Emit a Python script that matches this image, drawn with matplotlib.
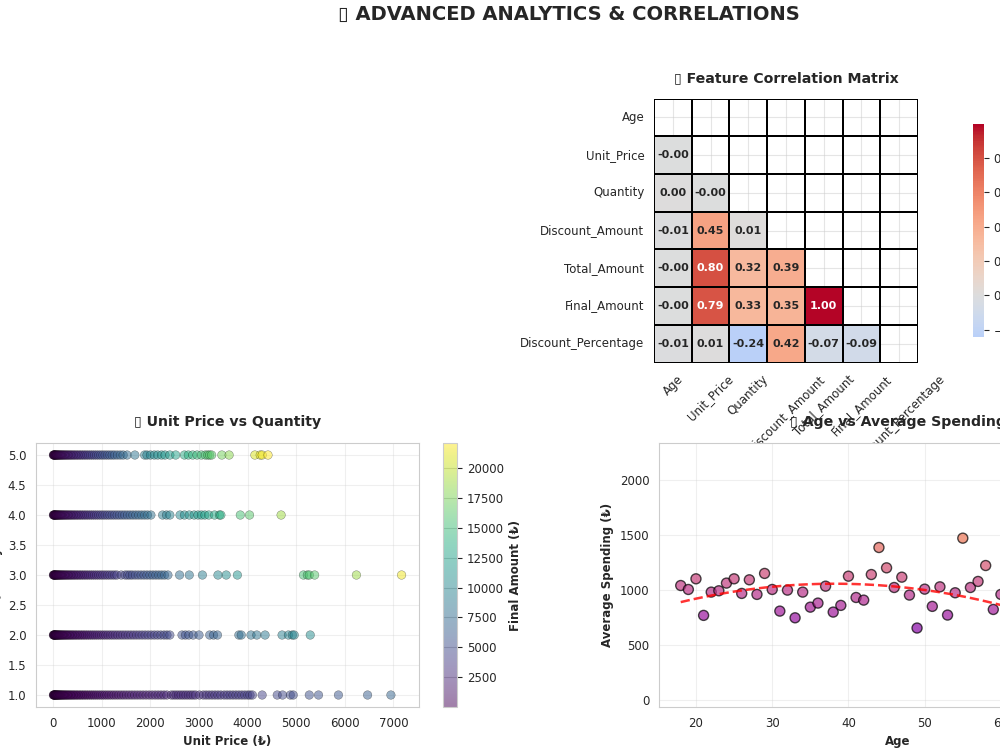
#!/usr/bin/env python3
"""
Advanced analytics panel: correlation heatmap, unit price vs quantity, age vs spending.
"""
from __future__ import annotations

import matplotlib
matplotlib.use("Agg")

import matplotlib.pyplot as plt
import numpy as np
import pandas as pd
import seaborn as sns

# --- correlation matrix (lower triangle, row by row) ---
FEATURES = [
    "Age", "Unit_Price", "Quantity", "Discount_Amount",
    "Total_Amount", "Final_Amount", "Discount_Percentage",
]
CORR_LOWER = [
    [],
    [-0.003],
    [0.002, -0.004],
    [-0.011, 0.452, 0.012],
    [-0.003, 0.801, 0.322, 0.391],
    [-0.002, 0.792, 0.331, 0.352, 0.996],
    [-0.012, 0.009, -0.241, 0.421, -0.071, -0.088],
]

# --- unit price per order, grouped by quantity ---
PRICES_Q1 = [3, 9, 15, 22, 30, 38, 47, 56, 66, 77, 88, 100, 113, 127, 142, 158, 175,
             193, 212, 232, 253, 275, 298, 322, 347, 373, 400, 428, 457, 487, 518, 550,
             583, 617, 652, 688, 725, 763, 802, 842, 883, 925, 968, 1012, 1057, 1103,
             1150, 1198, 1247, 1297, 1348, 1400, 1453, 1507, 1562, 1618, 1675, 1733,
             1792, 1852, 1913, 1975, 2038, 2100, 2160, 2220, 2280, 2340, 2430, 2480,
             2530, 2580, 2630, 2680, 2730, 2780, 2830, 2880, 2930, 3010, 3090, 3150,
             3210, 3270, 3330, 3390, 3450, 3520, 3580, 3640, 3700, 3760, 3820, 3880,
             3940, 4000, 4050, 4100, 4300, 4610, 4720, 4880, 4940, 5270, 5460, 5870,
             6470, 6950]
PRICES_Q2 = [3, 9, 15, 22, 30, 38, 47, 57, 68, 80, 93, 107, 122, 138, 155, 173, 192,
             212, 233, 255, 278, 302, 327, 353, 380, 408, 437, 467, 498, 530, 563, 597,
             632, 668, 705, 743, 782, 822, 863, 905, 948, 992, 1037, 1083, 1130, 1178,
             1227, 1277, 1328, 1380, 1433, 1487, 1542, 1598, 1655, 1713, 1772, 1832,
             1893, 1955, 2018, 2082, 2147, 2213, 2280, 2340, 2400, 2650, 2720, 2790,
             2880, 3000, 3220, 3300, 3380, 3820, 3870, 4070, 4190, 4360, 4710, 4840,
             4920, 4960, 5290]
PRICES_Q3 = [3, 9, 16, 24, 33, 43, 54, 66, 79, 93, 108, 124, 141, 159, 178, 198, 219,
             241, 264, 288, 313, 339, 366, 394, 423, 453, 484, 516, 549, 583, 618, 654,
             691, 729, 768, 808, 849, 891, 934, 978, 1023, 1069, 1116, 1164, 1213, 1263,
             1310, 1400, 1480, 1530, 1580, 1630, 1690, 1750, 1810, 1870, 1930, 1990,
             2050, 2110, 2170, 2230, 2290, 2360, 2600, 2800, 3070, 3390, 3560, 3790,
             5150, 5230, 5270, 5380, 6240, 7170]
PRICES_Q4 = [3, 9, 16, 24, 33, 43, 54, 66, 79, 93, 108, 124, 141, 159, 178, 198, 219,
             241, 264, 288, 313, 339, 366, 394, 423, 453, 484, 516, 549, 583, 618, 654,
             691, 729, 768, 808, 849, 891, 934, 978, 1023, 1069, 1116, 1164, 1213, 1263,
             1314, 1366, 1419, 1473, 1528, 1584, 1641, 1699, 1758, 1818, 1879, 1940,
             2010, 2250, 2330, 2400, 2610, 2700, 2800, 2900, 2980, 3050, 3120, 3200,
             3320, 3420, 3450, 3850, 4040, 4690]
PRICES_Q5 = [3, 9, 16, 24, 33, 43, 54, 66, 79, 93, 108, 124, 141, 159, 178, 198, 219,
             241, 264, 288, 313, 339, 366, 394, 423, 453, 484, 516, 549, 583, 618, 654,
             691, 729, 768, 808, 849, 891, 934, 978, 1023, 1069, 1116, 1164, 1213, 1263,
             1320, 1380, 1440, 1520, 1680, 1880, 1930, 2000, 2080, 2150, 2230, 2300,
             2400, 2520, 2700, 2780, 2870, 2960, 3050, 3130, 3180, 3220, 3260, 3470,
             3620, 4150, 4260, 4300, 4420]

# --- average spending per customer age ---
AGES = list(range(18, 76))
AVG_SPENDING = [1042, 1006, 1103, 770, 982, 994, 1064, 1103, 970, 1094, 961, 1152,
                1006, 809, 1000, 748, 982, 845, 882, 1036, 800, 861, 1127, 933, 909,
                1142, 1388, 1203, 1024, 1118, 955, 655, 1009, 852, 1030, 773, 976,
                1473, 1024, 1079, 1224, 824, 961,
                2230, 1130, 910, 720, 570, 450, 370, 45, 305, 330, 380, 470, 595,
                755, 950]

# emoji in the original titles have no installed glyph; a plain box stands in
BOX = "\u25af"
TITLE_KW = dict(fontsize=10.2, fontweight="bold", pad=12)


def corr_frame() -> pd.DataFrame:
    n = len(FEATURES)
    m = np.eye(n)
    for i, row in enumerate(CORR_LOWER):
        for j, v in enumerate(row):
            m[i, j] = v
            m[j, i] = v
    return pd.DataFrame(m, index=FEATURES, columns=FEATURES)


def draw_heatmap(ax, cax) -> None:
    corr = corr_frame()
    mask = np.triu(np.ones_like(corr, dtype=bool))
    sns.heatmap(
        corr, mask=mask, annot=True, fmt=".2f", cmap="coolwarm", center=0,
        square=True, linewidths=1.4, linecolor="black", ax=ax, cbar_ax=cax,
        annot_kws={"size": 8, "weight": "bold"},
    )
    ax.grid(True, alpha=0.5)
    ax.set_title(f"{BOX} Feature Correlation Matrix", **TITLE_KW)
    plt.setp(ax.get_xticklabels(), rotation=45)
    plt.setp(ax.get_yticklabels(), rotation=0)


def draw_price_quantity(fig, ax, cax) -> None:
    groups = [PRICES_Q1, PRICES_Q2, PRICES_Q3, PRICES_Q4, PRICES_Q5]
    price = np.concatenate([np.asarray(g, dtype=float) for g in groups])
    qty = np.concatenate([np.full(len(g), q + 1.0) for q, g in enumerate(groups)])
    final_amount = price * qty

    sc = ax.scatter(price, qty, c=final_amount, cmap="viridis", s=38, alpha=0.5,
                    edgecolors="black", linewidths=0.3)
    cb = fig.colorbar(sc, cax=cax)
    cb.set_label("Final Amount (₺)", fontweight="bold")
    ax.set_xlabel("Unit Price (₺)", fontweight="bold")
    ax.set_ylabel("Quantity", fontweight="bold")
    ax.set_title(f"{BOX} Unit Price vs Quantity", **TITLE_KW)
    ax.grid(True, alpha=0.3)


def draw_age_spending(ax) -> None:
    ages = np.asarray(AGES, dtype=float)
    spend = np.asarray(AVG_SPENDING, dtype=float)
    ax.scatter(ages, spend, c=spend, cmap="plasma", s=52, alpha=0.7,
               edgecolors="black", linewidths=1)
    trend = np.poly1d(np.polyfit(ages, spend, 2))
    ax.plot(ages, trend(ages), "r--", alpha=0.8, linewidth=1.8)
    ax.set_xlabel("Age", fontweight="bold")
    ax.set_ylabel("Average Spending (₺)", fontweight="bold")
    ax.set_title(f"{BOX} Age vs Average Spending", **TITLE_KW)
    ax.grid(True, alpha=0.3)


def main() -> None:
    sns.set_style("whitegrid")
    plt.rcParams["font.family"] = ["DejaVu Sans"]
    plt.rcParams.update({
        "font.size": 8.5,
        "axes.labelsize": 8.5,
        "xtick.labelsize": 8.5,
        "ytick.labelsize": 8.5,
    })

    fig = plt.figure(figsize=(10, 7.5), dpi=100)
    fig.suptitle(f"{BOX} ADVANCED ANALYTICS & CORRELATIONS", x=0.5685, y=0.993,
                 fontsize=14, fontweight="bold")

    ax_hm = fig.add_axes([0.654, 0.516, 0.264, 0.3533])
    cax_hm = fig.add_axes([0.973, 0.5507, 0.011, 0.284])
    ax_pq = fig.add_axes([0.036, 0.0573, 0.383, 0.352])
    cax_pq = fig.add_axes([0.443, 0.0573, 0.014, 0.352])
    ax_age = fig.add_axes([0.659, 0.0573, 0.478, 0.352])

    draw_heatmap(ax_hm, cax_hm)
    draw_price_quantity(fig, ax_pq, cax_pq)
    draw_age_spending(ax_age)

    fig.savefig("out.png", dpi=100)
    plt.close(fig)


if __name__ == "__main__":
    main()
